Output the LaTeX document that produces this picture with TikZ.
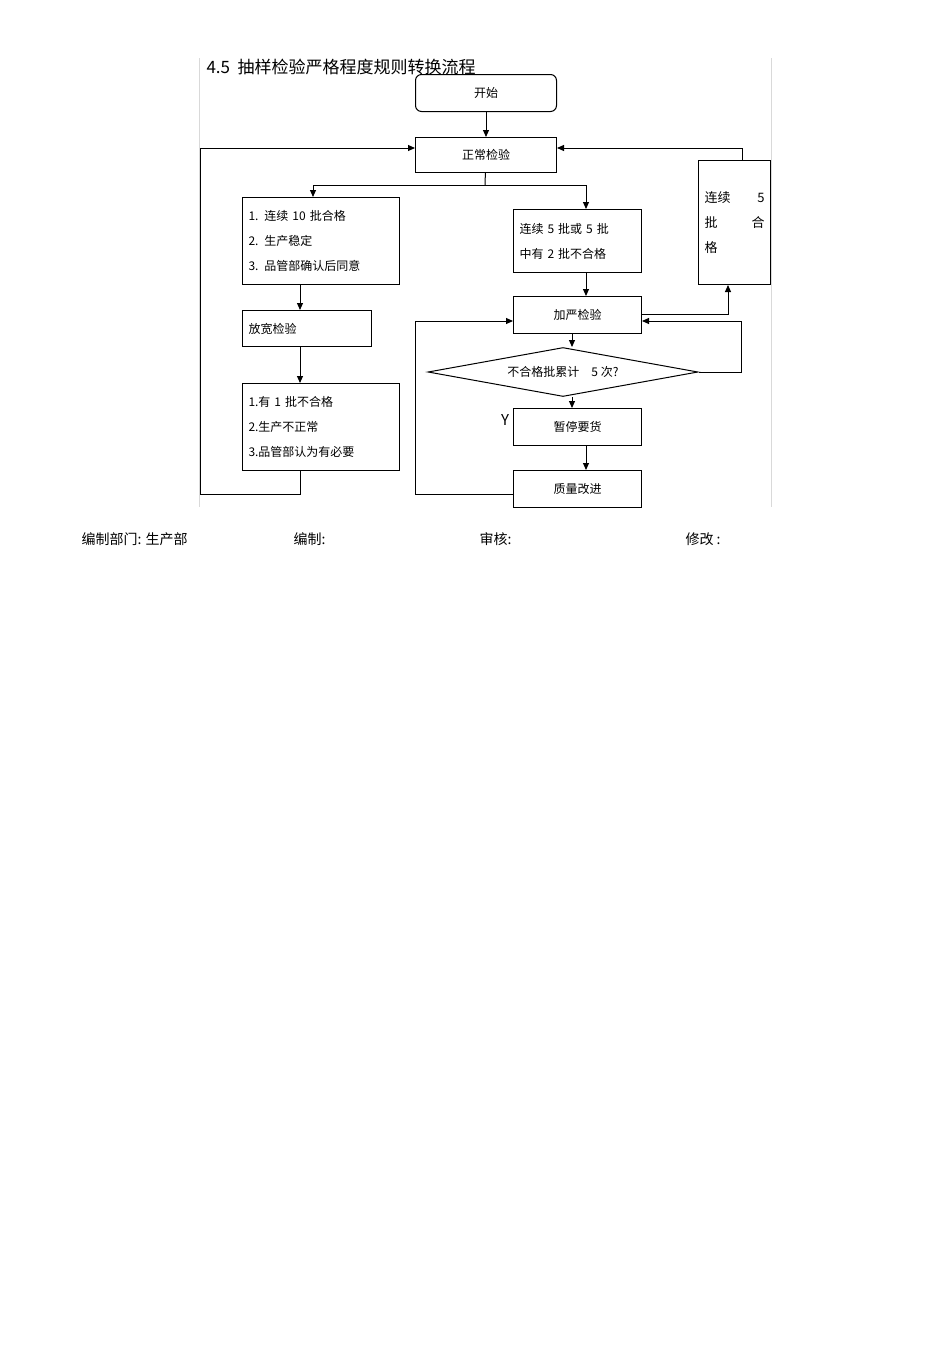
\documentclass[tikz,border=0pt]{standalone}
\usepackage{fontspec}
\setmainfont{Noto Sans CJK SC}
\usetikzlibrary{shapes.geometric,arrows.meta}
\begin{document}
\begin{tikzpicture}[x=1pt,y=-1pt,
  box/.style={draw,line width=1pt,inner sep=0pt,anchor=north west,font=\fontsize{12}{14}\selectfont},
  arr/.style={-{Triangle[length=7pt,width=6pt]},line width=1pt},
  ln/.style={line width=1pt}]
\useasboundingbox (0,0) rectangle (950,1345);
\draw[gray!30] (199,58) -- (199,507) (771,58) -- (771,507);
\node[anchor=base west,font=\fontsize{17}{20}\selectfont] (title) at (203,73) {4.5\ \ 抽样检验严格程度规则转换流程};
\node[box,rounded corners=6pt,minimum width=141pt,minimum height=37pt] (start) at (415,74) {开始};
\node[box,minimum width=141pt,minimum height=35pt] (norm) at (415,137) {正常检验};
\node[box,minimum width=157pt,minimum height=87pt,align=left,text width=145pt,inner xsep=6pt,font=\fontsize{12}{25}\selectfont] (c1) at (242,197) {1. 连续 10 批合格\\2. 生产稳定\\3. 品管部确认后同意};
\node[box,minimum width=129pt,minimum height=36pt,align=left,text width=117pt,inner xsep=6pt] (loose) at (242,310) {放宽检验};
\node[box,minimum width=157pt,minimum height=87pt,align=left,text width=145pt,inner xsep=6pt,font=\fontsize{12}{25}\selectfont] (c3) at (242,383) {1.有 1 批不合格\\2.生产不正常\\3.品管部认为有必要};
\node[box,minimum width=128pt,minimum height=63pt,align=left,text width=116pt,inner xsep=6pt,font=\fontsize{12}{25}\selectfont] (c2) at (513,209) {连续 5 批或 5 批\\中有 2 批不合格};
\node[box,minimum width=128pt,minimum height=37pt] (tight) at (513,296) {加严检验};
\node[draw,line width=1pt,diamond,aspect=5.5,minimum width=270pt,minimum height=49pt,inner sep=0pt,font=\fontsize{12}{14}\selectfont] (dec) at (563,372) {不合格批累计\quad 5 次?};
\node[box,minimum width=128pt,minimum height=37pt] (stop) at (513,408) {暂停要货};
\node[box,minimum width=128pt,minimum height=37pt] (qual) at (513,470) {质量改进};
\node[box,minimum width=72pt,minimum height=124pt,align=left,text width=60pt,inner xsep=6pt,font=\fontsize{13}{25}\selectfont] (c4) at (698,160) {连续\hfill 5\\批\hfill 合\\格};
\node[font=\fontsize{15}{16}\selectfont] (y) at (505,420) {Y};
\coordinate (j) at (485,185);
\draw[arr] (start) -- (norm);
\draw[ln] (norm) -- (j);
\draw[arr] (j) -- (313,185) -- (c1.north -| 313,0);
\draw[arr] (j) -- (586,185) -- (c2.north -| 586,0);
\draw[arr] (c1.south -| 300,0) -- (loose.north -| 300,0);
\draw[arr] (loose.south -| 300,0) -- (c3.north -| 300,0);
\draw[arr] (c3.south -| 300,0) -- (300,494) -- (200,494) -- (200,148) -- (norm.west |- 0,148);
\draw[arr] (c4.north -| 742,0) -- (742,148) -- (norm.east |- 0,148);
\draw[arr] (c2.south -| 586,0) -- (tight.north -| 586,0);
\draw[arr] (tight.east |- 0,314) -- (728,314) -- (c4.south -| 728,0);
\draw[arr] (dec.east) -- (741,372) -- (741,321) -- (tight.east |- 0,321);
\draw[arr] (tight.south -| 572,0) -- (572,347);
\draw[arr] (572,397) -- (stop.north -| 572,0);
\draw[arr] (stop.south -| 586,0) -- (qual.north -| 586,0);
\draw[arr] (qual.west |- 0,494) -- (415,494) -- (415,321) -- (tight.west |- 0,321);
\node[anchor=base west,font=\fontsize{14}{16}\selectfont] (f1) at (78,544) {编制部门: 生产部};
\node[anchor=base west,font=\fontsize{14}{16}\selectfont] (f2) at (290,544) {编制:};
\node[anchor=base west,font=\fontsize{14}{16}\selectfont] (f3) at (476,544) {审核:};
\node[anchor=base west,font=\fontsize{14}{16}\selectfont] (f4) at (682,544) {修改 :};
\end{tikzpicture}
\end{document}
